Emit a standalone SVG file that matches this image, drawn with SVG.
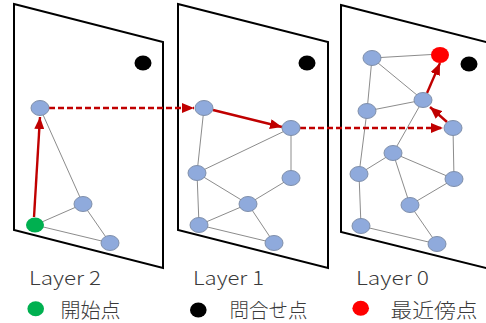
<svg xmlns="http://www.w3.org/2000/svg" width="486" height="323" viewBox="0 0 486 323">
  <defs>
    <marker id="arrow" viewBox="0 0 12 10" refX="12" refY="5" markerWidth="12" markerHeight="10" markerUnits="userSpaceOnUse" orient="auto">
      <path d="M0,0 L12,5 L0,10 Z" fill="#C00000"/>
    </marker>
    <style>
      .panel { fill: #FFFFFF; stroke: #000000; stroke-width: 2; }
      .edge { stroke: #8C8C8C; stroke-width: 1; fill: none; }
      .node { fill: #8FAADC; stroke: #7F8FAA; stroke-width: 1; }
      .step { stroke: #C00000; stroke-width: 2.4; fill: none; marker-end: url(#arrow); }
      .jump { stroke: #C00000; stroke-width: 2.4; fill: none; stroke-dasharray: 6 3; marker-end: url(#arrow); }
      .label { font-family: "Noto Sans CJK JP", "Noto Sans", sans-serif; font-size: 19px; font-weight: 300; fill: #3A3A3A; }
      .legend { font-family: "Noto Sans CJK JP", sans-serif; font-size: 20px; font-weight: 300; fill: #3A3A3A; }
    </style>
  </defs>

  <!-- layer planes -->
  <g id="planes">
    <polygon class="panel" points="14,4 163,42 163,268 14,230"/>
    <polygon class="panel" points="178,4 328,42 328,268 178,230"/>
    <polygon class="panel" points="341,5 490,43 490,269 341,232"/>
  </g>

  <!-- graph edges inside each layer -->
  <g id="edges">
    <line class="edge" x1="40" y1="108" x2="83" y2="204"/>
    <line class="edge" x1="35" y1="225" x2="83" y2="204"/>
    <line class="edge" x1="35" y1="225" x2="110" y2="243"/>
    <line class="edge" x1="83" y1="204" x2="110" y2="243"/>

    <line class="edge" x1="204" y1="108" x2="197" y2="173"/>
    <line class="edge" x1="197" y1="173" x2="291" y2="128"/>
    <line class="edge" x1="291" y1="128" x2="291" y2="178"/>
    <line class="edge" x1="197" y1="173" x2="248" y2="204"/>
    <line class="edge" x1="291" y1="178" x2="248" y2="204"/>
    <line class="edge" x1="197" y1="173" x2="199" y2="225"/>
    <line class="edge" x1="248" y1="204" x2="199" y2="225"/>
    <line class="edge" x1="199" y1="225" x2="274" y2="243"/>
    <line class="edge" x1="248" y1="204" x2="274" y2="243"/>

    <line class="edge" x1="372" y1="58" x2="440" y2="54"/>
    <line class="edge" x1="372" y1="58" x2="367" y2="111"/>
    <line class="edge" x1="372" y1="58" x2="423" y2="100"/>
    <line class="edge" x1="367" y1="111" x2="423" y2="100"/>
    <line class="edge" x1="423" y1="100" x2="393" y2="153"/>
    <line class="edge" x1="393" y1="153" x2="359" y2="174"/>
    <line class="edge" x1="359" y1="174" x2="367" y2="111"/>
    <line class="edge" x1="393" y1="153" x2="454" y2="179"/>
    <line class="edge" x1="393" y1="153" x2="410" y2="205"/>
    <line class="edge" x1="454" y1="179" x2="453" y2="128"/>
    <line class="edge" x1="410" y1="205" x2="454" y2="179"/>
    <line class="edge" x1="359" y1="174" x2="361" y2="226"/>
    <line class="edge" x1="361" y1="226" x2="437" y2="244"/>
    <line class="edge" x1="410" y1="205" x2="437" y2="244"/>
  </g>

  <!-- search path -->
  <g id="connectors">
    <line class="step" x1="34" y1="217" x2="40" y2="117"/>
    <line class="jump" x1="49" y1="108" x2="194" y2="108"/>
    <line class="step" x1="213" y1="110" x2="282" y2="127"/>
    <line class="jump" x1="300" y1="128" x2="443" y2="128"/>
    <line class="step" x1="447" y1="122" x2="430" y2="107"/>
    <line class="step" x1="427" y1="93" x2="440" y2="63"/>
  </g>

  <!-- Layer 2 -->
  <g id="layer2-nodes">
    <ellipse id="l2-a" class="node" cx="40" cy="108" rx="9" ry="7.5"/>
    <ellipse id="l2-b" class="node" cx="83" cy="204" rx="9" ry="7.5"/>
    <ellipse id="l2-c" class="node" cx="110" cy="243" rx="9" ry="7.5"/>
    <ellipse id="l2-start" cx="35" cy="225" rx="9" ry="7.5" fill="#00B050"/>
    <ellipse id="l2-query" cx="143" cy="63" rx="8.5" ry="7.5" fill="#000000"/>
  </g>

  <!-- Layer 1 -->
  <g id="layer1-nodes">
    <ellipse id="l1-a" class="node" cx="204" cy="108" rx="9" ry="7.5"/>
    <ellipse id="l1-b" class="node" cx="291" cy="128" rx="9" ry="7.5"/>
    <ellipse id="l1-c" class="node" cx="197" cy="173" rx="9" ry="7.5"/>
    <ellipse id="l1-d" class="node" cx="291" cy="178" rx="9" ry="7.5"/>
    <ellipse id="l1-e" class="node" cx="248" cy="204" rx="9" ry="7.5"/>
    <ellipse id="l1-f" class="node" cx="199" cy="225" rx="9" ry="7.5"/>
    <ellipse id="l1-g" class="node" cx="274" cy="243" rx="9" ry="7.5"/>
    <ellipse id="l1-query" cx="307" cy="63" rx="8.5" ry="7.5" fill="#000000"/>
  </g>

  <!-- Layer 0 -->
  <g id="layer0-nodes">
    <ellipse id="l0-a" class="node" cx="372" cy="58" rx="9" ry="7.5"/>
    <ellipse id="l0-b" class="node" cx="423" cy="100" rx="9" ry="7.5"/>
    <ellipse id="l0-c" class="node" cx="367" cy="111" rx="9" ry="7.5"/>
    <ellipse id="l0-d" class="node" cx="453" cy="128" rx="9" ry="7.5"/>
    <ellipse id="l0-e" class="node" cx="393" cy="153" rx="9" ry="7.5"/>
    <ellipse id="l0-f" class="node" cx="359" cy="174" rx="9" ry="7.5"/>
    <ellipse id="l0-g" class="node" cx="454" cy="179" rx="9" ry="7.5"/>
    <ellipse id="l0-h" class="node" cx="410" cy="205" rx="9" ry="7.5"/>
    <ellipse id="l0-i" class="node" cx="361" cy="226" rx="9" ry="7.5"/>
    <ellipse id="l0-j" class="node" cx="437" cy="244" rx="9" ry="7.5"/>
    <ellipse id="l0-nearest" cx="440" cy="55" rx="9" ry="8" fill="#FF0000"/>
    <ellipse id="l0-query" cx="469" cy="64" rx="8.5" ry="7.5" fill="#000000"/>
  </g>

  <!-- layer captions -->
  <g id="captions">
    <text class="label" x="29" y="285" textLength="72" lengthAdjust="spacingAndGlyphs">Layer 2</text>
    <text class="label" x="193" y="285" textLength="71" lengthAdjust="spacingAndGlyphs">Layer 1</text>
    <text class="label" x="356" y="285" textLength="73" lengthAdjust="spacingAndGlyphs">Layer 0</text>
  </g>

  <!-- legend -->
  <g id="legend">
    <ellipse cx="35.7" cy="308.7" rx="8.3" ry="7.5" fill="#00B050"/>
    <text class="legend" x="60.5" y="318" textLength="60" lengthAdjust="spacingAndGlyphs">開始点</text>
    <ellipse cx="198.3" cy="310" rx="8.3" ry="7.5" fill="#000000"/>
    <text class="legend" x="229.5" y="318" textLength="78" lengthAdjust="spacingAndGlyphs">問合せ点</text>
    <ellipse cx="360.7" cy="308.3" rx="8.3" ry="7.5" fill="#FF0000"/>
    <text class="legend" x="390.5" y="318" textLength="87" lengthAdjust="spacingAndGlyphs">最近傍点</text>
  </g>
</svg>
